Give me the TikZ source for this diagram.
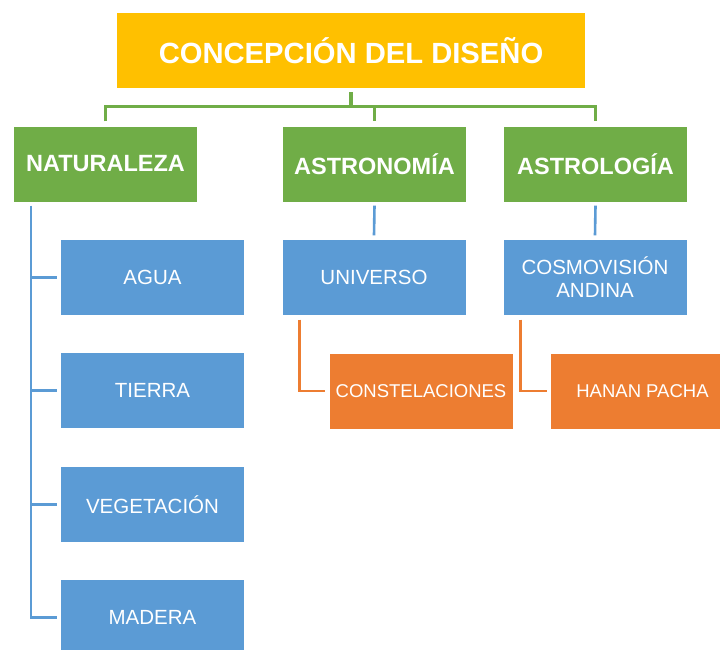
\documentclass[tikz,border=0pt]{standalone}
\usepackage{fontspec}
\setmainfont{Liberation Sans}
\definecolor{cgold}{HTML}{FFC000}
\definecolor{cgreen}{HTML}{70AD47}
\definecolor{cblue}{HTML}{5B9BD5}
\definecolor{corange}{HTML}{ED7D31}
\tikzset{
  box/.style={inner sep=0pt, minimum width=183pt, minimum height=75pt, text=white, align=center},
  titlebox/.style={box, fill=cgold, minimum width=468pt, font=\fontsize{29.2}{34}\selectfont\bfseries},
  headbox/.style={box, fill=cgreen, font=\fontsize{23.5}{28}\selectfont\bfseries},
  bluebox/.style={box, fill=cblue, font=\fontsize{20.5}{23}\selectfont},
  orangebox/.style={box, fill=corange, font=\fontsize{18.5}{22}\selectfont},
  gline/.style={draw=cgreen, line width=3.2pt},
  bline/.style={draw=cblue, line width=2.6pt},
  oline/.style={draw=corange, line width=2.6pt},
}
\begin{document}
\begin{tikzpicture}[x=1pt,y=-1pt]
\clip (0,0) rectangle (720,649);
\fill[white] (0,0) rectangle (720,649);
\node[titlebox] (title) at (351,50.5) {CONCEPCIÓN DEL DISEÑO};
\node[headbox] (nat) at (105.5,164) {NATURALEZA};
\node[headbox] (astron) at (374.5,164) {ASTRONOMÍA};
\node[headbox] (astrol) at (595.5,164) {ASTROLOGÍA};
\node[bluebox] (agua) at (152.5,277.5) {AGUA};
\node[bluebox] (tierra) at (152.5,390.5) {TIERRA};
\node[bluebox] (veg) at (152.5,504.5) {VEGETACIÓN};
\node[bluebox] (madera) at (152.5,617.5) {MADERA};
\node[bluebox] (univ) at (374,277) {UNIVERSO};
\node[bluebox] (cosmo) at (595,277) {COSMOVISIÓN\\ANDINA};
\node[orangebox] (const) at (421,391) {CONSTELACIONES};
\node[orangebox] (hanan) at (642.5,391) {HANAN PACHA};
% green connectors
\draw[gline] ([yshift=-4pt]title.south) -- ([yshift=-18.5pt]title.south) coordinate (hub);
\draw[gline] ([yshift=5pt]nat.north) |- (hub) -| ([yshift=5pt]astrol.north);
\draw[gline] (hub -| astron.north) -- ([yshift=5pt]astron.north);
% blue connectors
\coordinate (trunk) at ([xshift=17pt,yshift=-4pt]nat.south west);
\draw[bline] (trunk) |- ([xshift=-4pt]madera.west);
\draw[bline] (trunk |- agua.west) -- ([xshift=-4pt]agua.west);
\draw[bline] (trunk |- tierra.west) -- ([xshift=-4pt]tierra.west);
\draw[bline] (trunk |- veg.west) -- ([xshift=-4pt]veg.west);
\draw[bline] ([yshift=-4pt]astron.south) -- ([yshift=4pt]univ.north);
\draw[bline] ([yshift=-4pt]astrol.south) -- ([yshift=4pt]cosmo.north);
% orange connectors
\draw[oline] ([xshift=17pt,yshift=-5pt]univ.south west) |- ([xshift=-4pt]const.west);
\draw[oline] ([xshift=17pt,yshift=-5pt]cosmo.south west) |- ([xshift=-4pt]hanan.west);
\end{tikzpicture}
\end{document}
